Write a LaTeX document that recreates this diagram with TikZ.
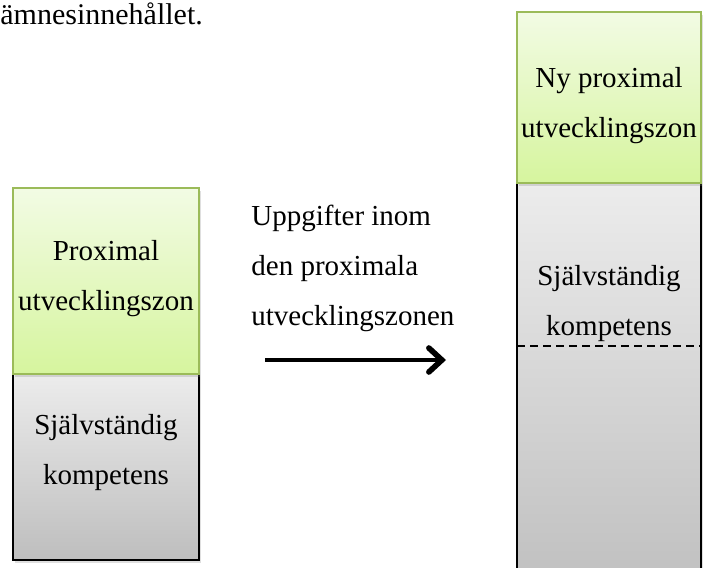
\documentclass[tikz,border=0pt]{standalone}
\usepackage{fontspec}
\setmainfont{Liberation Serif}
\usetikzlibrary{arrows.meta, shadows}

\begin{document}
\begin{tikzpicture}[x=0.5pt, y=-0.5pt,
		skugga/.style={drop shadow={opacity=0.25, shadow xshift=1pt, shadow yshift=-1.5pt}},
		zon/.style={draw=zongron, line width=0.8pt, top color=zonljus, bottom color=zonmork, skugga},
		komp/.style={draw=black, line width=1pt, top color=kompljus, bottom color=kompmork, skugga},
		etikett/.style={inner sep=0pt, align=center, font=\fontsize{14.5}{25}\selectfont}]
		\definecolor{zongron}{RGB}{155,187,89}
		\definecolor{zonljus}{RGB}{242,251,228}
		\definecolor{zonmork}{RGB}{214,245,158}
		\definecolor{kompljus}{RGB}{236,236,236}
		\definecolor{kompmork}{RGB}{190,190,190}
		\useasboundingbox (0,0) rectangle (704,567);
		% lådor: namn/x/y/bredd/höjd/stil (gråa först, gröna ovanpå)
		\foreach \namn/\x/\y/\b/\h/\stil in {sjalv/106/467/93/93/komp, nysjalv/609/391.5/92/208.5/komp, prox/106/281/93/93/zon, nyprox/609/97.5/92/85.5/zon} {
			\node[\stil, minimum width=\b pt, minimum height=\h pt, inner sep=0pt, outer sep=0pt] (\namn) at (\x,\y) {};
		}
		\node[etikett] (prox-text) at (106,279) {Proximal\\utvecklingszon};
		\node[etikett] (sjalv-text) at (106,453) {Självständig\\kompetens};
		\node[etikett] (nyprox-text) at (609,105.5) {Ny proximal\\utvecklingszon};
		\node[etikett] (nysjalv-text) at (609,304) {Självständig\\kompetens};
		\node[etikett, align=left, anchor=west] (uppg) at (251,268) {Uppgifter inom\\den proximala\\utvecklingszonen};
		\node[etikett, font=\fontsize{15}{25}\selectfont, anchor=base west] (forts) at (0,25) {ämnesinnehållet.};
		% gräns inom den nya kompetensen
		\coordinate (grans-v) at (517,346);
		\coordinate (grans-h) at (701,346);
		\draw[line width=0.6pt, dash pattern=on 4pt off 2.5pt] (grans-v) -- (grans-h);
		% pilen
		\coordinate (pil-start) at (265,360);
		\coordinate (pil-slut) at (446,360);
		\draw[line width=2.2pt, -{Straight Barb[length=6.5pt, width=12pt, line width=2.8pt, line cap=round]}] (pil-start) -- (pil-slut);
	\end{tikzpicture}
\end{document}
